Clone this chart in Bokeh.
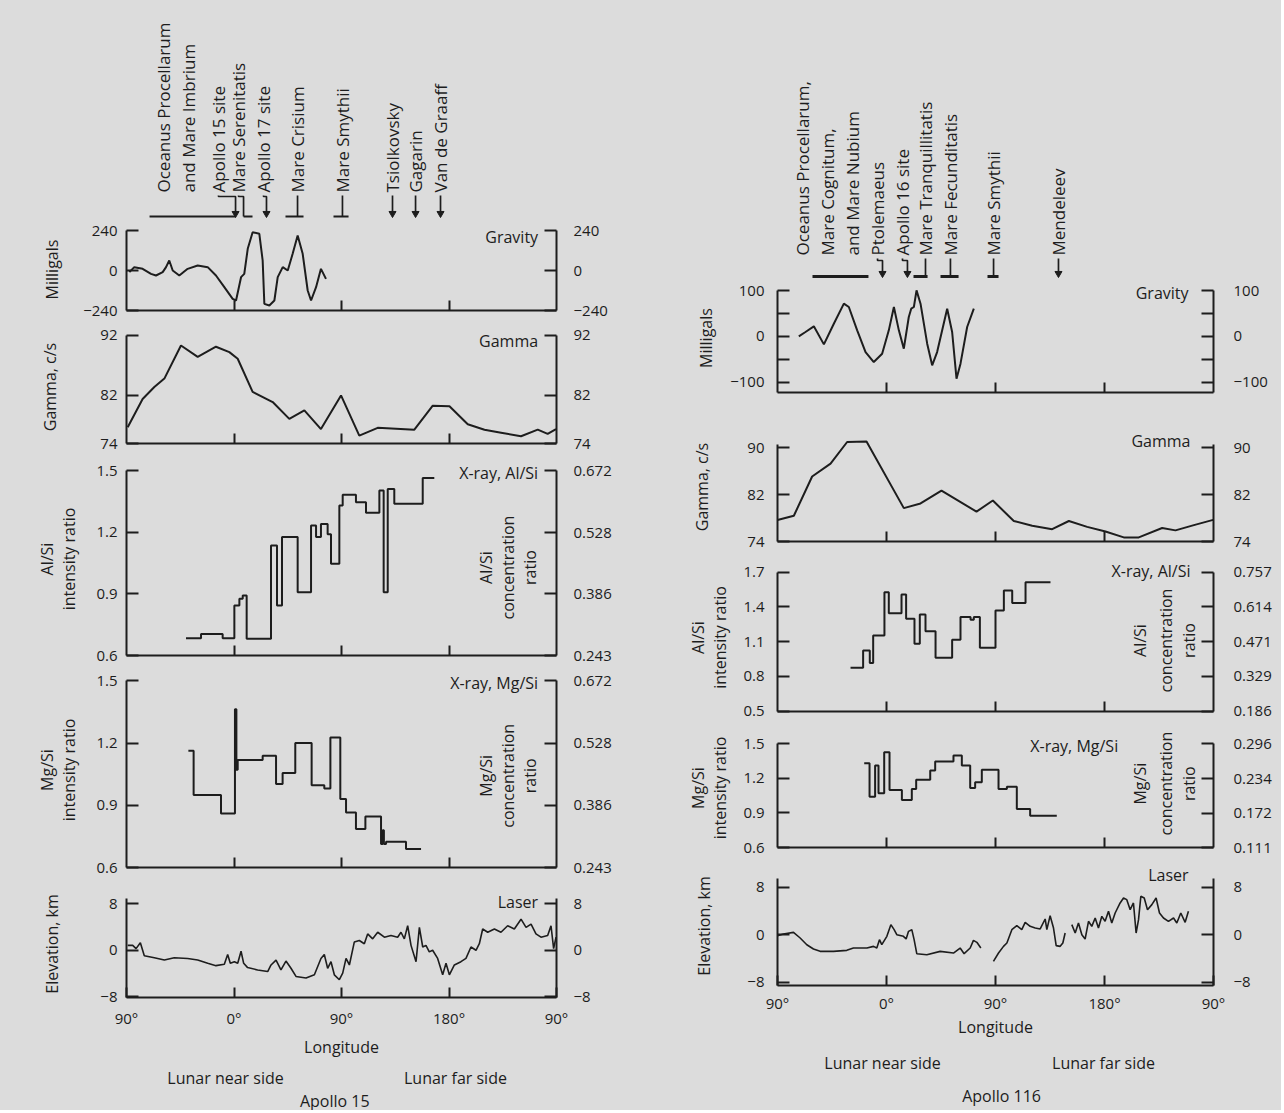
import math
from bokeh.plotting import figure
from bokeh.models import Range1d, LinearAxis, FixedTicker, NumeralTickFormatter
from bokeh.layouts import column, row
from bokeh.embed import file_html
from bokeh.resources import INLINE
from bokeh.core.properties import value

FONT = "Open Sans"
INK = "#1d1d1d"
BG = "#dcdcdc"
NAN = float("nan")

# ---------------- longitude axis ----------------
LON_TICKS = [-90, 0, 90, 180, 270]
LON_LABELS = ["90°", "0°", "90°", "180°", "90°"]
INNER_LON_TICKS = [0, 90, 180]
SIDE_LABELS = ["Lunar near side", "Lunar far side"]

# ---------------- Apollo 15 ----------------
A15_GRAV_LON = [-87.6, -83.5, -76.5, -69.5, -65.3, -59.7, -56.9, -54.2, -51.3, -45.8, -38.8, -30.4,
                -22.0, -15.1, -8.1, -1.1, 1.7, 5.9, 8.6, 11.5, 15.6, 21.2, 24.0, 25.4, 29.6, 33.8,
                36.6, 40.8, 45.0, 49.1, 53.3, 57.5, 61.7, 64.5, 68.7, 72.8, 77.0]
A15_GRAV = [-10, 20, 10, -20, -30, -10, 20, 60, 0, -30, 10, 30, 20, -30, -100, -170, -180, -40, -20,
            130, 230, 220, 60, -200, -210, -180, -40, 20, 0, 100, 210, 100, -120, -180, -100, 10, -50]

A15_GAMMA_LON = [-89, -76.5, -66.7, -58.3, -44.4, -30.4, -15.1, -3.9, 3.1, 15.6, 32.4, 46.3, 58.9,
                 72.8, 89.6, 104.9, 120.3, 151.0, 166.4, 180.4, 195.7, 209.7, 223.6, 240.3, 254.3,
                 262.6, 269.6]
A15_GAMMA = [76.7, 81.4, 83.4, 84.8, 90.3, 88.4, 90.1, 89.2, 88.1, 82.6, 80.9, 78.1, 79.5, 76.4, 82.0,
             75.3, 76.6, 76.3, 80.3, 80.2, 77.2, 76.3, 75.8, 75.2, 76.3, 75.6, 76.4]

A15_ALSI_EDGES = [-40.2, -27.6, -9.5, 0.3, 4.5, 7.3, 10.6, 31, 36, 40.2, 53.3, 64.5, 68.7, 72.8, 78.4,
                  81.2, 88.2, 91, 102.1, 110.5, 121.7, 125.3, 128.7, 134.2, 158, 167.7]
A15_ALSI = [0.684, 0.705, 0.684, 0.843, 0.876, 0.892, 0.681, 1.135, 0.843, 1.176, 0.908, 1.232, 1.176,
            1.24, 1.19, 1.046, 1.33, 1.382, 1.346, 1.294, 1.403, 0.908, 1.41, 1.338, 1.463]

A15_MGSI_EDGES = [-38.2, -33.8, -10.9, 0.8, 2.0, 3.1, 24, 35.2, 40.7, 51.3, 65, 75.6, 80.7, 89, 93.8,
                  102.1, 110, 123.1, 124.5, 125.5, 127.3, 144, 156.6]
A15_MGSI = [1.163, 0.949, 0.86, 1.363, 1.071, 1.118, 1.139, 1.002, 1.055, 1.2, 0.997, 0.981, 1.227,
            0.93, 0.865, 0.785, 0.846, 0.713, 0.78, 0.713, 0.724, 0.689]

A15_LASER_LON = [-89.0, -84.8, -82.0, -78.4, -75.1, -66.7, -58.3, -50.0, -38.8, -30.4, -22.0, -15.1,
                 -8.1, -5.3, -3.1, 0.3, 3.1, 5.9, 8.1, 11.4, 19.8, 28.2, 31.0, 35.2, 39.3, 43.5, 47.7,
                 51.9, 60.3, 67.3, 72.8, 75.6, 78.4, 81.2, 84.0, 88.2, 91.0, 93.8, 96.6, 100.7, 104.9,
                 109.1, 111.9, 116.1, 120.3, 125.9, 131.4, 137.0, 139.8, 142.6, 145.4, 148.2, 152.4,
                 155.2, 158.0, 160.7, 163.5, 166.3, 170.5, 174.7, 177.5, 180.3, 184.5, 190.0, 194.2,
                 198.4, 202.6, 205.4, 208.2, 212.4, 218.0, 223.5, 229.1, 234.7, 240.3, 244.5, 248.7,
                 252.8, 257.0, 262.6, 265.4, 267.6, 269.6]
A15_LASER = [0.84, 0.84, 0.28, 1.29, -0.95, -1.29, -1.68, -1.29, -1.40, -1.68, -2.24, -2.64, -2.41,
             -0.73, -2.24, -1.96, -2.24, -0.17, -2.24, -2.97, -3.37, -3.65, -2.52, -1.68, -3.37, -1.85,
             -3.09, -4.49, -4.77, -4.21, -1.40, -0.73, -3.09, -1.96, -4.21, -5.05, -3.93, -1.40, -2.52,
             1.40, 1.68, 1.12, 2.81, 1.96, 3.09, 2.24, 2.52, 2.24, 3.09, 1.96, 4.21, 0.84, -1.96, 3.93,
             0.56, 0.84, -0.28, 0.00, -1.40, -4.21, -2.24, -4.21, -2.52, -1.96, -1.40, 0.56, 0.00, 1.12,
             3.65, 3.09, 3.65, 3.09, 4.21, 3.65, 5.33, 3.93, 4.49, 2.81, 2.24, 2.52, 4.21, 0.28, 2.24]

A15_FEATURES = ["Oceanus Procellarum", "and Mare Imbrium", "Apollo 15 site", "Mare Serenitatis",
                "Apollo 17 site", "Mare Crisium", "Mare Smythii", "Tsiolkovsky", "Gagarin",
                "Van de Graaff"]
A15_FEATURE_LON = [-59.0, -38.1, -13.0, 3.8, 24.7, 53.2, 90.8, 132.7, 152.0, 172.9]
A15_FEATURE_KIND = ["none", "none", "arrow", "bar", "arrow", "bar", "bar", "arrow", "arrow", "arrow"]
A15_FEATURE_TARGET = [None, None, 1.3, 8.0, 27.2, 53.2, 90.8, 132.7, 152.0, 172.9]
A15_BAR_LO = [-70.7, 8.0, 43.1, 83.3]
A15_BAR_HI = [1.3, 15.5, 58.2, 95.9]
A15_SIDE_LON = [-7.1, 185.4]

# ---------------- Apollo 16 ----------------
A16_GRAV_LON = [-72.4, -66.9, -60.0, -51.7, -43.5, -35.2, -31.1, -24.2, -17.3, -10.5, -3.6, 1.9, 6.1,
                10.2, 14.3, 18.4, 20.4, 22.6, 24.8, 28.1, 33.6, 37.7, 41.8, 50.1, 54.2, 57.8, 61.1,
                66.6, 72.1]
A16_GRAV = [0, 9.5, 21.8, -17.5, 27.6, 71.3, 64.0, 13.1, -34.2, -56.0, -37.8, 13.1, 64.0, 13.1, -26.9,
            42.2, 60.3, 64.0, 100.3, 71.3, -16.0, -63.2, -34.2, 60.3, 9.5, -92.3, -59.6, 20.4, 60.3]

A16_GAMMA_LON = [-90, -76.5, -61.4, -46.2, -32.5, -16.5, 14.3, 28.1, 45.4, 74.3, 87.8, 105.1, 120.3,
                 136.8, 150.6, 165.7, 180.8, 195.9, 208.3, 227.6, 238.6, 253.8, 269.7]
A16_GAMMA = [77.66, 78.4, 85.1, 87.3, 91.0, 91.1, 79.7, 80.5, 82.7, 79.1, 81.0, 77.5, 76.7, 76.1, 77.5,
             76.5, 75.7, 74.7, 74.7, 76.3, 75.9, 76.8, 77.7]

A16_ALSI_EDGES = [-29.7, -19.3, -13.8, -11.0, -1.7, 1.9, 12.4, 16.2, 23.1, 27.5, 32.2, 40.5, 54.2,
                  61.1, 69.4, 72.1, 77.1, 90.0, 96.9, 103.8, 114.8, 135.4]
A16_ALSI = [0.875, 1.024, 0.915, 1.154, 1.527, 1.346, 1.507, 1.297, 1.082, 1.335, 1.191, 0.961, 1.116,
            1.312, 1.289, 1.312, 1.047, 1.369, 1.542, 1.433, 1.614]

A16_MGSI_EDGES = [-18.4, -14.0, -9.4, -6.6, -1.9, 2.5, 12.7, 20.9, 24.5, 36.1, 40.2, 55.3, 62.2, 69.1,
                  73.2, 78.7, 92.5, 99.4, 107.6, 118.6, 140.6]
A16_MGSI = [1.332, 1.041, 1.311, 1.070, 1.427, 1.099, 1.012, 1.108, 1.189, 1.268, 1.346, 1.398, 1.311,
            1.117, 1.166, 1.274, 1.108, 1.128, 0.934, 0.876]

A16_LASER_LON = [-90.0, -85.1, -76.8, -71.3, -65.8, -60.3, -54.8, -43.8, -32.8, -27.3, -16.2, -10.7,
                 -8.0, -5.8, -3.9, 0.3, 3.6, 6.3, 8.5, 14.0, 16.2, 18.2, 20.9, 22.8, 25.0, 33.3, 44.3,
                 55.3, 60.8, 64.1, 69.1, 71.8, 74.6, 77.9, NAN, 88.3, 92.5, 96.6, 99.4, 103.5, 107.6,
                 111.7, 114.5, 118.6, 122.8, 126.9, 131.0, 132.4, 135.1, 137.9, 140.1, 143.4, 145.6,
                 147.5, NAN, 153.0, 155.8, 158.5, 161.3, 164.0, 166.8, 169.5, 172.3, 175.0, 177.8,
                 180.5, 183.3, 186.0, 188.8, 192.9, 195.7, 198.4, 201.2, 203.9, 206.1, 208.1, 210.0,
                 212.8, 215.5, 219.1, 222.6, 225.4, 228.7, 232.8, 237.0, 239.7, 243.0, 246.6, 249.3]
A16_LASER = [-0.17, 0.11, 0.39, -0.56, -1.69, -2.42, -2.81, -2.81, -2.64, -2.25, -2.25, -1.97, -2.25,
             -0.84, -1.69, -0.28, 1.69, 0.84, 0.0, -0.28, -0.73, 0.56, 0.84, -0.84, -3.2, -3.37, -2.81,
             -3.09, -2.25, -3.2, -2.25, -0.96, -1.29, -2.25, NAN, -4.49, -3.09, -1.97, -1.4, 0.84,
             1.52, 0.84, 2.08, 1.4, 1.12, 0.96, 2.64, 0.84, 3.2, 1.12, -1.85, -1.97, -1.4, 0.28, NAN,
             1.69, 0.28, 1.97, 0.0, -0.73, 2.25, 1.4, 2.81, 1.12, 3.09, 2.25, 3.93, 1.97, 3.65, 5.34,
             6.18, 5.9, 4.21, 5.34, 0.28, 2.53, 6.46, 6.18, 4.21, 5.06, 6.18, 3.65, 2.81, 2.25, 2.81,
             1.97, 3.65, 2.08, 3.93]

A16_FEATURES = ["Oceanus Procellarum,", "Mare Cognitum,", "and Mare Nubium", "Ptolemaeus",
                "Apollo 16 site", "Mare Tranquillitatis", "Mare Fecunditatis", "Mare Smythii",
                "Mendeleev"]
A16_FEATURE_LON = [-69.4, -48.7, -28.1, -7.4, 13.2, 32.2, 52.8, 88.4, 142.0]
A16_FEATURE_KIND = ["none", "none", "none", "arrow", "arrow", "bar", "bar", "bar", "arrow"]
A16_FEATURE_TARGET = [None, None, None, -3.3, 17.3, 32.2, 52.8, 88.4, 142.0]
A16_BAR_LO = [-61.1, 22.3, 44.6, 83.4]
A16_BAR_HI = [-14.9, 33.9, 59.5, 92.5]
A16_SIDE_LON = [-3.3, 179.2]

# ---------------- tick values / labels ----------------
A15_GRAV_TICKS = [-240, 0, 240]
A15_GAMMA_TICKS = [74, 82, 92]
A15_XRAY_TICKS = [0.6, 0.9, 1.2, 1.5]
A15_ALSI_CONC = [0.243, 0.386, 0.528, 0.672]
A15_MGSI_CONC = [0.243, 0.386, 0.528, 0.672]
LASER_TICKS = [-8, 0, 8]

A16_GRAV_TICKS = [-100, 0, 100]
A16_GRAV_MINOR = [-50, 50]
A16_GAMMA_TICKS = [74, 82, 90]
A16_ALSI_TICKS = [0.5, 0.8, 1.1, 1.4, 1.7]
A16_ALSI_CONC = [0.186, 0.329, 0.471, 0.614, 0.757]
A16_MGSI_TICKS = [0.6, 0.9, 1.2, 1.5]
A16_MGSI_CONC = [0.111, 0.172, 0.234, 0.296]

# ---------------- geometry ----------------
GEO_L = dict(bl=126, fw=430, br=88, lstand=9, rstand=17)
GEO_R = dict(bl=133, fw=436, br=68, lstand=13, rstand=20)
PAGE_STYLE = {"background-color": BG}


def style(ax, tick_len=12):
    ax.axis_line_color = INK
    ax.axis_line_width = 2
    ax.major_tick_line_color = INK
    ax.major_tick_line_width = 2
    ax.minor_tick_line_color = INK
    ax.minor_tick_line_width = 2
    ax.major_tick_in = tick_len
    ax.major_tick_out = 0
    ax.minor_tick_in = tick_len
    ax.minor_tick_out = 0
    ax.major_label_text_font = FONT
    ax.major_label_text_font_size = "15px"
    ax.major_label_text_color = INK
    ax.axis_label_text_font = FONT
    ax.axis_label_text_font_size = "16px"
    ax.axis_label_text_font_style = "normal"
    ax.axis_label_text_color = INK
    ax.axis_label_text_line_height = 1.0


def base(geo, top, frame_h, bottom, y0, y1, axes=True):
    kw = {}
    if not axes:
        kw = dict(x_axis_type=None, y_axis_type=None)
    p = figure(width=geo["bl"] + geo["fw"] + geo["br"], height=top + frame_h + bottom,
               x_range=Range1d(-90, 270), y_range=Range1d(y0, y1),
               min_border_left=geo["bl"], min_border_right=geo["br"],
               min_border_top=top, min_border_bottom=bottom,
               toolbar_location=None, output_backend="svg", title=None,
               styles=PAGE_STYLE, **kw)
    p.background_fill_color = None
    p.border_fill_color = BG
    p.outline_line_color = None
    p.grid.visible = False
    return p


def panel(geo, top, frame_h, bottom, y0, y1, bounds, ticks, ylabel, label_standoff,
          minor=None, conc=None, bottom_labels=False):
    p = base(geo, top, frame_h, bottom, y0, y1)
    ax = p.yaxis[0]
    ax.ticker = FixedTicker(ticks=ticks, minor_ticks=minor or [])
    ax.bounds = bounds
    style(ax)
    ax.major_label_standoff = geo["lstand"]
    ax.axis_label = ylabel
    ax.axis_label_standoff = label_standoff
    if conc is None:
        rax = LinearAxis(ticker=FixedTicker(ticks=ticks, minor_ticks=minor or []), bounds=bounds)
    else:
        slope = (conc[-1] - conc[0]) / (ticks[-1] - ticks[0])

        def f(v):
            return conc[0] + (v - ticks[0]) * slope
        p.extra_y_ranges = {"conc": Range1d(f(y0), f(y1))}
        rax = LinearAxis(y_range_name="conc", ticker=FixedTicker(ticks=conc),
                         bounds=(f(bounds[0]), f(bounds[1])),
                         formatter=NumeralTickFormatter(format="0.000"))
    style(rax)
    rax.major_label_standoff = geo["rstand"]
    p.add_layout(rax, "right")
    bx = p.xaxis[0]
    style(bx, tick_len=10)
    if bottom_labels:
        bx.ticker = FixedTicker(ticks=LON_TICKS)
        bx.major_label_overrides = dict(zip(LON_TICKS, LON_LABELS))
        bx.axis_label = "Longitude"
    else:
        # ticks only (no labels) along the inner panels
        bx.ticker = FixedTicker(ticks=[], minor_ticks=INNER_LON_TICKS)
        bx.major_label_standoff = 0
    return p


def txt(p, xs, ys, texts, align="right", angle=0.0, size="16px"):
    p.text(x=xs, y=ys, text=texts, angle=angle, text_align=align, text_baseline="middle",
           text_font=value(FONT), text_font_size=size, text_color=INK)


def header(geo, h, names, tlon, kinds, targets, blo, bhi, y_text, y_mid, y_end, bar_w):
    p = base(geo, 0, h, 0, 0, h, axes=False)
    txt(p, tlon, [y_text] * len(tlon), names, align="left", angle=math.pi / 2, size="17px")
    p.segment(x0=blo, y0=[y_end] * len(blo), x1=bhi, y1=[y_end] * len(blo),
              line_width=bar_w, color=INK)
    xs, ys, ax_, ay_ = [], [], [], []
    for tl, k, tg in zip(tlon, kinds, targets):
        if k == "none":
            continue
        end = y_end + 4 if k == "arrow" else y_end
        xs.append([tl, tl, tg, tg])
        ys.append([y_text - 3, y_mid, y_mid, end])
        if k == "arrow":
            ax_.append(tg)
            ay_.append(y_end + 3)
    p.multi_line(xs, ys, line_width=1.7, color=INK)
    p.scatter(x=ax_, y=ay_, marker="inverted_triangle", size=7, color=INK)
    return p


def footer(geo, h, side_lon, y_side, name, name_lon, y_name):
    p = base(geo, 0, h, 0, 0, h, axes=False)
    txt(p, side_lon, [y_side] * 2, SIDE_LABELS, align="center")
    txt(p, [name_lon], [y_name], [name], align="center")
    return p


LW = 2.0

# ================= Apollo 15 column =================
hL = header(GEO_L, 218, A15_FEATURES, A15_FEATURE_LON, A15_FEATURE_KIND, A15_FEATURE_TARGET,
            A15_BAR_LO, A15_BAR_HI, 26, 22, 2, 2)

g1 = panel(GEO_L, 10, 82, 10, -240, 252, (-240, 240), A15_GRAV_TICKS, "Milligals", 17)
g1.line(A15_GRAV_LON, A15_GRAV, line_width=LW, color=INK)
txt(g1, [254.6], [204], ["Gravity"])

g2 = panel(GEO_L, 10, 113, 13, 74, 92.8, (74, 92), A15_GAMMA_TICKS, "Gamma, c/s", 36)
g2.line(A15_GAMMA_LON, A15_GAMMA, line_width=LW, color=INK)
txt(g2, [254.6], [91.0], ["Gamma"])

g3 = panel(GEO_L, 6, 193, 12, 0.6, 1.539, (0.6, 1.5), A15_XRAY_TICKS, "Al/Si\nintensity ratio", 13,
           conc=A15_ALSI_CONC)
g3.step(A15_ALSI_EDGES, A15_ALSI + [A15_ALSI[-1]], mode="after", line_width=LW, color=INK)
txt(g3, [254.6], [1.49], ["X-ray, Al/Si"])
txt(g3, [210.6, 229.8, 248.2], [1.028] * 3, ["Al/Si", "concentration", "ratio"], align="center",
    angle=math.pi / 2)

g4 = panel(GEO_L, 5, 195, 13, 0.6, 1.54, (0.6, 1.5), A15_XRAY_TICKS, "Mg/Si\nintensity ratio", 13,
           conc=A15_MGSI_CONC)
g4.step(A15_MGSI_EDGES, A15_MGSI + [A15_MGSI[-1]], mode="after", line_width=LW, color=INK)
txt(g4, [254.6], [1.49], ["X-ray, Mg/Si"])
txt(g4, [210.6, 229.8, 248.2], [1.042] * 3, ["Mg/Si", "concentration", "ratio"], align="center",
    angle=math.pi / 2)

g5 = panel(GEO_L, 10, 109, 61, -8.1, 10.25, (-8.1, 8.9), LASER_TICKS, "Elevation, km", 34,
           bottom_labels=True)
g5.line(A15_LASER_LON, A15_LASER, line_width=1.6, color=INK)
txt(g5, [254.6], [8.2], ["Laser"])
g5.xaxis[0].major_label_standoff = 10
g5.xaxis[0].axis_label_standoff = 5

fL = footer(GEO_L, 50, A15_SIDE_LON, 33, "Apollo 15", 84.4, 10)

colL = column(hL, g1, g2, g3, g4, g5, fL, styles=PAGE_STYLE)

# ================= Apollo 16 column =================
hR = header(GEO_R, 278, A16_FEATURES, A16_FEATURE_LON, A16_FEATURE_KIND, A16_FEATURE_TARGET,
            A16_BAR_LO, A16_BAR_HI, 23, 18, 2, 3)

r1 = panel(GEO_R, 5, 109, 34, -122.5, 115.3, (-122.5, 100), A16_GRAV_TICKS, "Milligals", 10,
           minor=A16_GRAV_MINOR)
r1.line(A16_GRAV_LON, A16_GRAV, line_width=LW, color=INK)
txt(r1, [249.4], [95.6], ["Gravity"])

r2 = panel(GEO_R, 6, 109, 12, 74, 92.62, (74, 90.5), A16_GAMMA_TICKS, "Gamma, c/s", 31)
r2.line(A16_GAMMA_LON, A16_GAMMA, line_width=LW, color=INK)
txt(r2, [251], [91.1], ["Gamma"])

r3 = panel(GEO_R, 10, 148, 11, 0.497, 1.775, (0.497, 1.7), A16_ALSI_TICKS, "Al/Si\nintensity ratio", 9,
           conc=A16_ALSI_CONC)
r3.step(A16_ALSI_EDGES, A16_ALSI + [A16_ALSI[-1]], mode="after", line_width=LW, color=INK)
txt(r3, [251], [1.706], ["X-ray, Al/Si"])
txt(r3, [209.7, 230.4, 249.4], [1.11] * 3, ["Al/Si", "concentration", "ratio"], align="center",
    angle=math.pi / 2)

r4 = panel(GEO_R, 6, 119, 11, 0.6, 1.633, (0.6, 1.5), A16_MGSI_TICKS, "Mg/Si\nintensity ratio", 9,
           conc=A16_MGSI_CONC)
r4.step(A16_MGSI_EDGES, A16_MGSI + [A16_MGSI[-1]], mode="after", line_width=LW, color=INK)
txt(r4, [155], [1.477], ["X-ray, Mg/Si"], align="center")
txt(r4, [209.7, 230.4, 249.4], [1.154] * 3, ["Mg/Si", "concentration", "ratio"], align="center",
    angle=math.pi / 2)

r5 = panel(GEO_R, 8, 119, 55, -8.56, 11.48, (-8.56, 9.4), LASER_TICKS, "Elevation, km", 29,
           bottom_labels=True)
r5.line(A16_LASER_LON, A16_LASER, line_width=1.6, color=INK)
txt(r5, [249.4], [9.97], ["Laser"])
r5.xaxis[0].major_label_standoff = 7
r5.xaxis[0].axis_label_standoff = 0

fR = footer(GEO_R, 70, A16_SIDE_LON, 48, "Apollo 116", 95.0, 15)

colR = column(hR, r1, r2, r3, r4, r5, fR, styles=PAGE_STYLE)

layout = row(colL, colR, styles=PAGE_STYLE)

open("out.html", "w").write(file_html(layout, INLINE))
